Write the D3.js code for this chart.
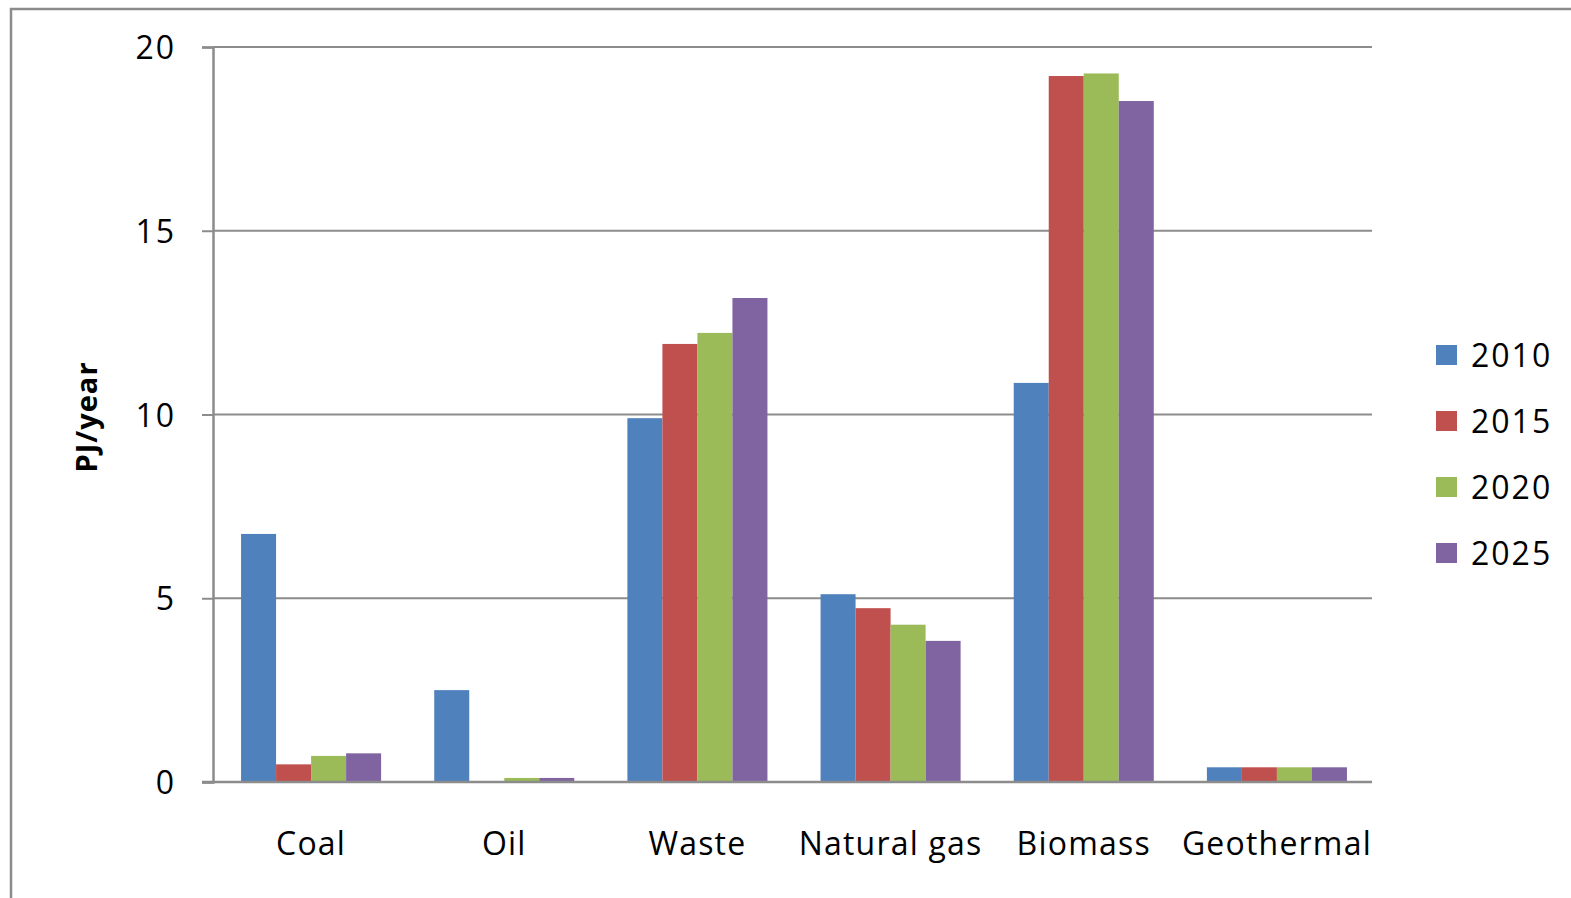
<!DOCTYPE html>
<html>
<head>
<meta charset="utf-8">
<script src="https://cdn.jsdelivr.net/npm/d3@7"></script>
<style>
  html, body { margin: 0; padding: 0; background: #fff; }
  svg { display: block; }
  text { font-family: "Open Sans", "DejaVu Sans", sans-serif; fill: #000; }
</style>
</head>
<body>
<svg id="chart" width="1571" height="898"></svg>
<script>
// Fuel categories and annual energy values (PJ/year) per scenario year
const categories = ["Coal", "Oil", "Waste", "Natural gas", "Biomass", "Geothermal"];
const years = ["2010", "2015", "2020", "2025"];
const values2010 = [6.75, 2.50, 9.90, 5.11, 10.86, 0.40];
const values2015 = [0.48, 0.02, 11.92, 4.73, 19.21, 0.40];
const values2020 = [0.71, 0.11, 12.22, 4.28, 19.28, 0.40];
const values2025 = [0.78, 0.11, 13.17, 3.84, 18.53, 0.40];
const yTicks = [0, 5, 10, 15, 20];
const colors = ["#4f81bd", "#c0504d", "#9bbb59", "#8064a2"];

const seriesValues = [values2010, values2015, values2020, values2025];

const svg = d3.select("#chart");

// Outer chart frame (open on the right and bottom edges of the page)
svg.append("rect")
  .attr("x", 11).attr("y", 9)
  .attr("width", 1600).attr("height", 950)
  .attr("fill", "none").attr("stroke", "#8c8c8c").attr("stroke-width", 2.5);

const plot = { left: 213, right: 1372, top: 47, bottom: 782 };

const x0 = d3.scaleBand()
  .domain(categories)
  .range([plot.left + 1.5, plot.right + 1.5])
  .paddingInner(0.275)
  .paddingOuter(0.1375);

const x1 = d3.scaleBand()
  .domain(years)
  .range([0, x0.bandwidth()]);

const y = d3.scaleLinear()
  .domain([0, 20])
  .range([plot.bottom, plot.top]);

// Horizontal gridlines
svg.append("g")
  .selectAll("line")
  .data(yTicks)
  .join("line")
  .attr("x1", plot.left).attr("x2", plot.right)
  .attr("y1", d => y(d)).attr("y2", d => y(d))
  .attr("stroke", "#8c8c8c").attr("stroke-width", 2);

// Y axis with outward ticks
const yAxis = d3.axisLeft(y)
  .tickValues(yTicks)
  .tickSize(11)
  .tickPadding(26)
  .tickFormat(d3.format("d"));

const yg = svg.append("g")
  .attr("transform", `translate(${plot.left},0)`)
  .call(yAxis);
yg.select(".domain").attr("stroke", "#8c8c8c").attr("stroke-width", 2.5);
yg.selectAll(".tick line").attr("stroke", "#8c8c8c").attr("stroke-width", 2);
yg.selectAll(".tick text")
  .attr("font-size", 32)
  .attr("letter-spacing", 2)
  .attr("font-family", "'Open Sans', sans-serif")
  .attr("fill", "#000")
  .attr("dy", "0.36em");

// Bars
const groups = svg.append("g")
  .selectAll("g")
  .data(categories)
  .join("g")
  .attr("transform", d => `translate(${x0(d)},0)`);

groups.selectAll("rect")
  .data((c, i) => years.map((yr, s) => ({ year: yr, s, v: seriesValues[s][i] })))
  .join("rect")
  .attr("x", d => x1(d.year))
  .attr("width", x1.bandwidth())
  .attr("y", d => y(d.v))
  .attr("height", d => y(0) - y(d.v))
  .attr("fill", d => colors[d.s]);

// Baseline redrawn over bars
svg.append("line")
  .attr("x1", plot.left - 11).attr("x2", plot.right)
  .attr("y1", y(0)).attr("y2", y(0))
  .attr("stroke", "#8c8c8c").attr("stroke-width", 2.5);

// Category labels
svg.append("g")
  .selectAll("text")
  .data(categories)
  .join("text")
  .attr("x", d => x0(d) + x0.bandwidth() / 2)
  .attr("y", 855)
  .attr("text-anchor", "middle")
  .attr("font-size", 32)
  .attr("letter-spacing", 1.2)
  .text(d => d);

// Y axis title
svg.append("text")
  .attr("transform", "translate(97,417) rotate(-90)")
  .attr("text-anchor", "middle")
  .attr("font-size", 29)
  .attr("letter-spacing", 1)
  .attr("font-weight", "bold")
  .text("PJ/year");

// Legend
const legend = svg.append("g")
  .selectAll("g")
  .data(years)
  .join("g")
  .attr("transform", (d, i) => `translate(1436,${345 + i * 66})`);

legend.append("rect")
  .attr("width", 21).attr("height", 20)
  .attr("fill", (d, i) => colors[i]);

legend.append("text")
  .attr("x", 35).attr("y", 22)
  .attr("font-size", 32)
  .attr("letter-spacing", 2)
  .text(d => d);
</script>
</body>
</html>
